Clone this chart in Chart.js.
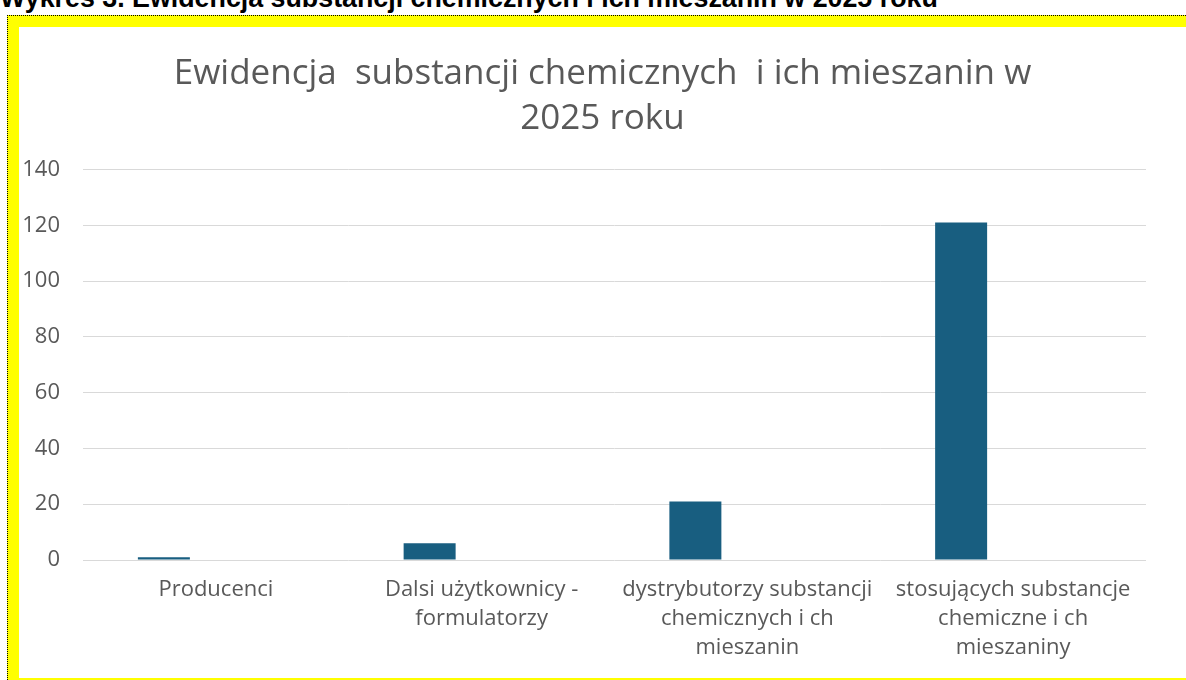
<!DOCTYPE html>
<html>
<head>
<meta charset="utf-8">
<script src="https://cdn.jsdelivr.net/npm/chart.js"></script>
<style>
  html, body { margin: 0; padding: 0; background: #fff; overflow: hidden; width: 1186px; height: 680px; }
  #heading {
    position: absolute; left: 0; top: -17px; white-space: nowrap;
    font-family: "Liberation Sans", Arial, sans-serif; font-weight: bold; font-size: 26.8px; color: #000;
  }
  #frame {
    position: absolute; left: 7px; top: 15px; width: 1300px; height: 700px;
    border-left: 1px dotted #000; border-top: 1px dotted #000; background: #ffff00;
  }
  #inner {
    position: absolute; left: 11px; top: 11px; width: 1300px; height: 651px; background: #fff;
  }
  #wrap { position: absolute; left: 0; top: 0; width: 1167px; height: 651px; }
</style>
</head>
<body>
<div id="heading">Wykres 3. Ewidencja substancji chemicznych i ich mieszanin w 2025 roku</div>
<div id="frame">
  <div id="inner">
    <div id="wrap"><canvas id="chart"></canvas></div>
  </div>
</div>
<script>
var categories = [
  'Producenci',
  ['Dalsi użytkownicy -', 'formulatorzy'],
  ['dystrybutorzy substancji', 'chemicznych i ch', 'mieszanin'],
  ['stosujących substancje', 'chemiczne i ch', 'mieszaniny']
];
var values = [1, 6, 21, 121];
var titleLines = ['Ewidencja  substancji chemicznych  i ich mieszanin w', '2025 roku'];
var yTicks = { min: 0, max: 140, step: 20 };

var grey = '#595959';
var font = 'Open Sans';

var ctx = document.getElementById('chart').getContext('2d');
var chart = new Chart(ctx, {
  type: 'bar',
  data: {
    labels: categories,
    datasets: [
      { data: values, backgroundColor: '#185e80', borderWidth: 0 },
      { data: [], backgroundColor: '#185e80' },
      { data: [], backgroundColor: '#185e80' }
    ]
  },
  options: {
    responsive: true,
    maintainAspectRatio: false,
    animation: false,
    categoryPercentage: 0.587,
    barPercentage: 1.0,
    layout: { padding: 0 },
    plugins: {
      legend: { display: false },
      tooltip: { enabled: false },
      title: {
        display: true,
        text: titleLines,
        color: grey,
        font: { family: font, size: 35, weight: '400', lineHeight: 1.28 },
        padding: { top: 25, bottom: 28 }
      }
    },
    scales: {
      x: {
        grid: { display: false, drawTicks: false },
        border: { display: false },
        ticks: {
          color: grey, padding: 15, maxRotation: 0, autoSkip: false,
          font: { family: font, size: 22, lineHeight: 1.32 }
        },
        afterFit: function(scale) { scale.height = 118; }
      },
      y: {
        min: yTicks.min, max: yTicks.max,
        grid: { color: '#d9d9d9', lineWidth: 1, drawTicks: false },
        border: { display: false },
        ticks: {
          stepSize: yTicks.step, color: grey, padding: 23,
          font: { family: font, size: 22 }
        },
        afterFit: function(scale) { scale.width = 64; }
      },
      // empty right margin of the plot area
      yRight: {
        position: 'right',
        min: yTicks.min, max: yTicks.max,
        grid: { display: false, drawTicks: false },
        border: { display: false },
        ticks: { display: false },
        afterFit: function(scale) { scale.width = 40; }
      }
    }
  }
});
</script>
</body>
</html>
